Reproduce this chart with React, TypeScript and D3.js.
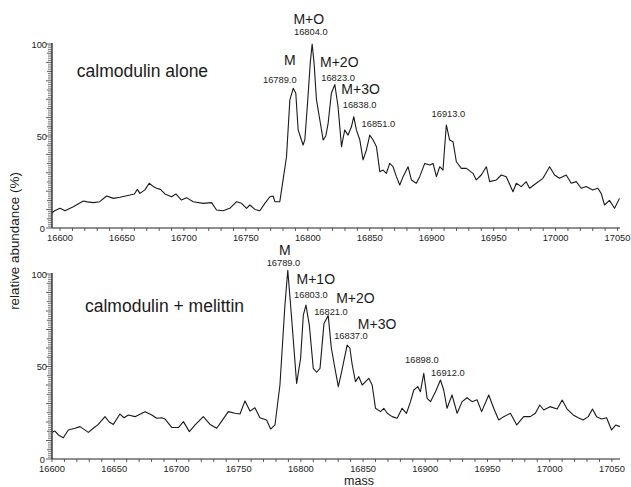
import React, { useRef, useEffect } from "react";
import * as d3 from "d3";

// calmodulin alone spectrum (mass, relative abundance %)
const aloneMass = [
  16593.3, 16596, 16600, 16604, 16610.7, 16618.8, 16622, 16626.9, 16632, 16637.6, 16643, 16648.4,
  16656.5, 16660, 16662.4, 16664.5, 16668.5, 16672, 16675.3, 16677.9, 16681, 16684.7, 16690, 16693.5,
  16698, 16702, 16707.5, 16715.6, 16722.3, 16726.3, 16731.7, 16737, 16742.5, 16746.5, 16750.5, 16753.2,
  16757.3, 16761.3, 16765.3, 16769.4, 16772, 16773.4, 16777.4, 16780, 16782.8, 16785.5, 16788.2, 16790.3,
  16792.2, 16794, 16796.2, 16797.6, 16800, 16802, 16803.5, 16805, 16807, 16809.7, 16812.4, 16814.5,
  16816.4, 16819, 16821.8, 16824.4, 16827.2, 16829.8, 16832.5, 16835.2, 16837.1, 16839.2, 16842, 16844.6,
  16847.3, 16850, 16852.7, 16855.4, 16858.1, 16860.8, 16863.4, 16866.1, 16868.8, 16871.5, 16874.2, 16876.9,
  16880.9, 16883.6, 16887.6, 16890.3, 16894.4, 16898.4, 16901.1, 16903.8, 16906.5, 16909.1, 16911.8, 16914.5,
  16917.2, 16919.9, 16923.9, 16928, 16933.3, 16936, 16940, 16944.1, 16946.8, 16952.2, 16956.2, 16960.2,
  16965.6, 16968.3, 16972.3, 16976.3, 16979, 16984.4, 16989.8, 16995.2, 16999.2, 17003.2, 17008.6, 17012.6,
  17016.7, 17020.7, 17024.7, 17030, 17034.1, 17036.8, 17039.5, 17043.5, 17047.6, 17051.6,
];
const aloneAbundance = [
  8.3, 9.5, 10.7, 9.4, 11.6, 14.7, 14.2, 13.8, 14.3, 17.4, 16.1, 16.7,
  17.9, 18.5, 21, 18.8, 20.7, 24.3, 22.5, 21.6, 21, 18.5, 17, 18.5,
  15.2, 16.5, 14.3, 13.4, 13.8, 9.8, 9.4, 10.7, 14.3, 13.4, 10.7, 12.5,
  10.1, 9.4, 13.4, 17, 17.4, 14.3, 14.3, 26, 38.7, 69.6, 75.9, 73.2,
  53.3, 49.6, 45.1, 48, 70, 90, 100, 90, 69.6, 58.7, 47.8, 50,
  56.9, 73.2, 78, 65.9, 44.2, 53.3, 50.5, 55, 60.5, 53.3, 47.8, 37,
  42.4, 50.5, 47.8, 44.2, 30.6, 31.5, 29.7, 35.1, 33.3, 27.9, 23.4, 27.9,
  33.3, 26.1, 24.3, 27.9, 35.1, 34.2, 35.1, 27.9, 33.3, 31.5, 56, 47.8,
  46.9, 36, 32.4, 32.4, 29.7, 26.1, 28.8, 33.3, 25.2, 26.1, 28.8, 27.9,
  19.7, 24.3, 22.5, 25.2, 21.6, 24.3, 27, 33.3, 28.8, 27, 28.8, 24.3,
  25.2, 21.6, 22.5, 20.7, 21.6, 18.8, 12.5, 15, 10.7, 16.1,
];

// calmodulin + melittin spectrum
const melittinMass = [
  16600, 16602.4, 16605.1, 16609.1, 16613.1, 16618.5, 16622.5, 16629.2, 16633.2, 16637.2, 16642.6, 16646,
  16649.3, 16654.6, 16657.9, 16661.4, 16666.7, 16674.8, 16680.2, 16684.2, 16688.2, 16690.9, 16696.2, 16701.6,
  16705.6, 16710.4, 16715, 16721.6, 16727, 16732.4, 16736.4, 16741.7, 16747.1, 16751.1, 16755.1, 16759.1,
  16763.1, 16767.1, 16772.5, 16775.7, 16779.2, 16783.2, 16787.2, 16789.5, 16792.6, 16796.6, 16799.8, 16802,
  16804.1, 16806.8, 16810, 16812.7, 16815.4, 16818.6, 16822, 16824.5, 16827.4, 16830.1, 16832.8, 16837.2,
  16839.4, 16841.3, 16843.9, 16846.6, 16849.3, 16852, 16854.6, 16857.3, 16860, 16864, 16866.7, 16869.4,
  16873.4, 16877.4, 16881.4, 16884.9, 16888.1, 16890.8, 16894, 16896.1, 16898.8, 16901.5, 16904.2, 16908.2,
  16912.2, 16914.8, 16917.5, 16921.5, 16925.6, 16929.6, 16933.6, 16937.6, 16941.6, 16945.3, 16951, 16955,
  16959, 16963, 16968.4, 16973.5, 16979.1, 16984.4, 16988.5, 16992, 16995.2, 17000.2, 17006, 17010,
  17014, 17018.9, 17022.9, 17026.9, 17031, 17034.4, 17037.7, 17041.7, 17045.7, 17049.7, 17053.2, 17056.4,
];
const melittinAbundance = [
  14.5, 15.1, 13, 11.5, 15.7, 16.6, 17.5, 14.4, 16.6, 18.7, 22.9, 20,
  18.7, 24.3, 22.3, 23.8, 22.9, 25.6, 23.8, 22, 22.3, 21.6, 17.1, 17,
  20.2, 14.8, 18.4, 22.9, 18.7, 16.6, 20.5, 25.6, 24.7, 24.3, 31.4, 25.9,
  27.7, 22.3, 21.1, 16.2, 18.4, 40, 83.2, 102, 76, 40.9, 54.4, 77.8,
  83.2, 72.4, 49, 46.9, 49, 73.3, 77.5, 60, 49, 39.1, 47.2, 61.6,
  60, 50.8, 41.8, 44.5, 40, 41.8, 43.6, 40, 27.4, 25.6, 27.4, 24.7,
  22.9, 22, 27.4, 24.7, 31, 37.3, 39.1, 36.4, 46.3, 32.8, 31, 36.4,
  42.7, 37.3, 27.4, 34.6, 24.7, 31, 33.1, 31, 32, 25.6, 34.6, 27.4,
  21.1, 22.9, 24.7, 18.4, 22.9, 22.9, 24.7, 29.2, 26.5, 28.3, 27, 31.9,
  27, 23.8, 22.3, 21.1, 22.9, 27, 22.9, 21.6, 22.3, 15.7, 18.4, 17.5,
];

const massTicks = [16600, 16650, 16700, 16750, 16800, 16850, 16900, 16950, 17000, 17050];
const abundanceTicks = [0, 50, 100];

// annotations: text, anchor mass, anchor abundance (data units)
const aloneNames = [
  ["M", 16785.5, 88.6],
  ["M+O", 16800.8, 110.6],
  ["M+2O", 16825.4, 87.5],
  ["M+3O", 16842.6, 72.8],
];
const aloneValues = [
  ["16789.0", 16777.4, 78.8],
  ["16804.0", 16802.4, 104.9],
  ["16823.0", 16824.4, 79.9],
  ["16838.0", 16841.8, 65.4],
  ["16851.0", 16857, 54.9],
  ["16913.0", 16913.5, 60.5],
];
const melittinNames = [
  ["M", 16787.2, 110.3],
  ["M+1O", 16812, 94.4],
  ["M+2O", 16843.9, 84.5],
  ["M+3O", 16861.3, 70.1],
];
const melittinValues = [
  ["16789.0", 16786, 104.3],
  ["16803.0", 16808.1, 86.9],
  ["16821.0", 16824.2, 77.8],
  ["16837.0", 16840.3, 64.9],
  ["16898.0", 16897.3, 51.7],
  ["16912.0", 16918.2, 44.9],
];

const FONT = "'Liberation Sans', Arial, Helvetica, sans-serif";

const App = () => {
  const svgRef = useRef(null);

  useEffect(() => {
    const svg = d3.select(svgRef.current);
    svg.selectAll("*").remove();

    const panels = [
      {
        mass: aloneMass, abundance: aloneAbundance, title: "calmodulin alone",
        titleAt: [16613.5, 82], names: aloneNames, values: aloneValues,
        x: d3.scaleLinear().domain([16593.5, 17052]).range([52, 620]),
        y: d3.scaleLinear().domain([0, 100]).range([228, 44]),
      },
      {
        mass: melittinMass, abundance: melittinAbundance, title: "calmodulin + melittin",
        titleAt: [16626.5, 79.6], names: melittinNames, values: melittinValues,
        x: d3.scaleLinear().domain([16600, 17056.5]).range([52, 620]),
        y: d3.scaleLinear().domain([0, 100]).range([459, 274]),
      },
    ];

    panels.forEach((p) => {
      const g = svg.append("g");
      const [x0, x1] = p.x.range();
      const y0 = p.y(0);

      // y axis comb (ticks every unit)
      d3.range(0, 101).forEach((v) => {
        const len = v % 10 === 0 ? 6 : v % 5 === 0 ? 5 : 4;
        g.append("line")
          .attr("x1", x0 - len).attr("x2", x0)
          .attr("y1", p.y(v)).attr("y2", p.y(v))
          .attr("stroke", v % 5 === 0 ? "#333" : "#666")
          .attr("stroke-width", 0.8);
      });
      g.append("line")
        .attr("x1", x0).attr("x2", x0)
        .attr("y1", p.y(100) - 1).attr("y2", y0)
        .attr("stroke", "#222").attr("stroke-width", 1.3);

      abundanceTicks.forEach((v) => {
        g.append("text")
          .attr("x", v === 0 ? x0 - 7 : x0 - 5)
          .attr("y", v === 0 ? y0 + 4 : p.y(v) + 3.5)
          .attr("text-anchor", "end")
          .style("font-family", FONT).style("font-size", "9.3px")
          .attr("fill", "#222")
          .text(v);
      });

      // x axis
      g.append("line")
        .attr("x1", x0).attr("x2", x1)
        .attr("y1", y0).attr("y2", y0)
        .attr("stroke", "#222").attr("stroke-width", 1);
      d3.range(16600, 17060, 10).forEach((m) => {
        if (p.x(m) > x1) return;
        g.append("line")
          .attr("x1", p.x(m)).attr("x2", p.x(m))
          .attr("y1", y0).attr("y2", y0 + 3)
          .attr("stroke", "#333").attr("stroke-width", 0.8);
      });
      massTicks.forEach((m) => {
        g.append("text")
          .attr("x", p.x(m)).attr("y", y0 + 13)
          .attr("text-anchor", "middle")
          .style("font-family", FONT).style("font-size", "9.3px")
          .attr("fill", "#222")
          .text(m);
      });

      // spectrum line
      const pts = p.mass.map((m, i) => [m, p.abundance[i]]);
      const line = d3.line()
        .x((d) => p.x(d[0]))
        .y((d) => p.y(d[1]));
      g.append("path")
        .attr("d", line(pts))
        .attr("fill", "none")
        .attr("stroke", "#1a1a1a")
        .attr("stroke-width", 1.1)
        .attr("stroke-linejoin", "round");

      // labels
      g.append("text")
        .attr("x", p.x(p.titleAt[0])).attr("y", p.y(p.titleAt[1]))
        .style("font-family", FONT).style("font-size", "17.5px")
        .attr("fill", "#1a1a1a")
        .text(p.title);

      p.names.forEach(([t, m, v]) => {
        g.append("text")
          .attr("x", p.x(m)).attr("y", p.y(v))
          .attr("text-anchor", "middle")
          .style("font-family", FONT).style("font-size", "14px")
          .attr("fill", "#1a1a1a")
          .text(t);
      });
      p.values.forEach(([t, m, v]) => {
        g.append("text")
          .attr("x", p.x(m)).attr("y", p.y(v))
          .attr("text-anchor", "middle")
          .style("font-family", FONT).style("font-size", "9.3px")
          .attr("fill", "#222")
          .text(t);
      });
    });

    svg.append("text")
      .attr("transform", "translate(19,241) rotate(-90)")
      .attr("text-anchor", "middle")
      .style("font-family", FONT).style("font-size", "13.4px")
      .attr("fill", "#1a1a1a")
      .text("relative abundance (%)");

    svg.append("text")
      .attr("x", 359).attr("y", 485)
      .attr("text-anchor", "middle")
      .style("font-family", FONT).style("font-size", "12.5px")
      .attr("fill", "#1a1a1a")
      .text("mass");
  }, []);

  return (
    <svg
      ref={svgRef}
      width={631}
      height={487}
      style={{ position: "absolute", left: 0, top: 0, background: "#fff" }}
    />
  );
};

export default App;
